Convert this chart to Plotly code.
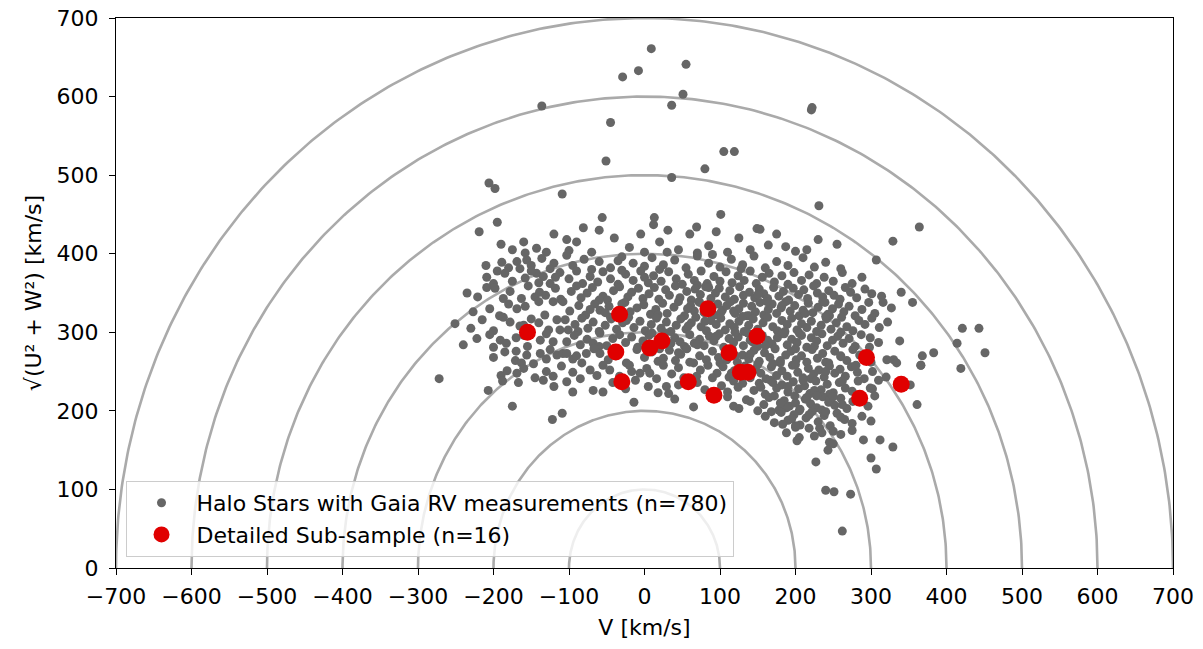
import numpy as np
import plotly.graph_objects as go

# ---------------- data ----------------
circle_radii = [100, 200, 300, 400, 500, 600, 700]
x_ticks = [-700, -600, -500, -400, -300, -200, -100, 0, 100, 200, 300, 400, 500, 600, 700]
y_ticks = [0, 100, 200, 300, 400, 500, 600, 700]

outer_v = [9, 55, -8, -29, 51, 36, -136, -45, 221, 222,
           105, 119, -51, 80, -206, -198, 36, -109, 231, 101,
           -56, 13, 12, -81, 69, 31, 149, -195, 364, 153,
           -272]
outer_h = [661, 641, 633, 625, 603, 589, 588, 567, 583, 586,
           530, 530, 518, 508, 490, 483, 497, 476, 461, 450,
           446, 446, 437, 433, 434, 430, 432, 440, 434, 431,
           241]

b400_v = [-219, -143, -103, -158, 164, 187, 255, 329, -190, -175,
          -120, -90, -70, -40, -20, 0, 20, 45, 60, 85,
          110, 125, 140, 200, 230, -60, -5, 95, 175, -130,
          70, -160, 215, 30, -100]
b400_h = [428, 407, 418, 401, 411, 409, 412, 416, 412, 405,
          425, 415, 402, 420, 408, 402, 415, 405, 425, 410,
          402, 420, 405, 403, 418, 430, 425, 428, 425, 402,
          401, 415, 405, 402, 404]

b380_v = [-156, -169, -189, -136, -103, 307, -210, -180, -150, -120,
          -95, -80, -60, -45, -30, -15, 0, 10, 25, 40,
          55, 70, 85, 100, 115, 130, 145, 160, 175, 190,
          210, 225, 240, 260, -70, 20, 90, -125, -35, 128]
b380_h = [392, 390, 389, 394, 398, 392, 385, 382, 385, 388,
          385, 393, 390, 382, 396, 388, 384, 395, 386, 392,
          382, 397, 388, 383, 393, 386, 397, 382, 390, 385,
          395, 383, 389, 381, 380, 380, 399, 381, 391, 381]

b360_v = [-165, -143, -134, -158, -209, -200, -185, -175, -150, -125,
          -112, -100, -90, -82, -72, -62, -55, -45, -35, -25,
          -15, -5, 5, 12, 22, 32, 42, 50, 58, 66,
          75, 83, 92, 100, 108, 116, 124, 132, 140, 148,
          156, 165, 172, 182, 190, 198, 208, 218, 228, 238,
          250, 262, 275, 288, -140, -195, -118, 0, -30, 70]
b360_h = [381, 375, 371, 369, 370, 362, 375, 365, 378, 362,
          376, 368, 378, 362, 371, 364, 377, 368, 361, 374,
          366, 378, 363, 372, 365, 377, 368, 361, 374, 366,
          378, 362, 371, 365, 377, 363, 372, 366, 378, 362,
          370, 375, 364, 372, 361, 376, 366, 373, 362, 370,
          365, 376, 362, 370, 363, 378, 370, 370, 379, 360]

b340_v = [-235, -221, -209, -198, -187, -178, -163, -154, -145, -139,
          -131, -118, -111, -97, -90, -84, -76, -69, -55, -49,
          -41, -33, -22, -17, -8, -2, 6, 13, 19, 28,
          33, 41, 47, 56, 62, 67, 74, 81, 88, 94,
          99, 107, 113, 119, 126, 131, 139, 146, 152, 158,
          163, 171, 178, 184, 191, 197, 204, 211, 216, 224,
          229, 236, 244, 251, 259, 266, 273, 281, 292, 301,
          314, 340, -60, 85, 150]
b340_h = [350, 345, 357, 356, 343, 352, 343, 359, 345, 351,
          347, 356, 342, 352, 359, 344, 350, 357, 346, 341,
          353, 358, 345, 351, 356, 343, 349, 357, 342, 354,
          347, 359, 344, 352, 341, 355, 348, 358, 343, 350,
          356, 345, 353, 342, 358, 347, 351, 344, 355, 349,
          343, 357, 346, 352, 341, 356, 348, 354, 343, 359,
          350, 345, 353, 347, 342, 357, 351, 344, 355, 349,
          346, 351, 341, 357, 348]

b320_v = [-227, -205, -192, -169, -158, -140, -121, -108, -99, -87,
          -78, -66, -59, -47, -38, -26, -19, -10, -1, 8,
          15, 24, 30, 39, 45, 53, 61, 66, 73, 79,
          86, 92, 97, 103, 109, 114, 120, 125, 131, 136,
          142, 147, 153, 158, 164, 169, 175, 181, 187, 193,
          199, 205, 210, 217, 223, 230, 236, 243, 249, 257,
          264, 271, 279, 288, 297, 305, 316, 327, 355, -180,
          -132, -72, -30, 18, 57, 101, 139, 162, 213, 239,
          118, 182, 245, -52, 72]
b320_h = [326, 330, 321, 330, 333, 339, 339, 339, 327, 334,
          322, 336, 328, 333, 321, 338, 326, 331, 335, 323,
          329, 337, 324, 332, 339, 321, 334, 327, 338, 325,
          331, 322, 336, 328, 334, 339, 324, 330, 337, 321,
          333, 326, 338, 322, 329, 336, 324, 331, 339, 327,
          334, 321, 328, 337, 325, 332, 339, 323, 330, 336,
          326, 333, 321, 329, 338, 324, 338, 331, 338, 336,
          322, 329, 336, 322, 330, 325, 321, 339, 324, 338,
          327, 334, 321, 325, 339]

b300_v = [-251, -230, -215, -200, -187, -178, -165, -150, -127, -116,
          -112, -105, -101, -92, -83, -75, -68, -60, -52, -44,
          -37, -29, -21, -14, -6, 1, 9, 16, 22, 29,
          35, 42, 48, 55, 62, 68, 75, 82, 88, 95,
          101, 107, 113, 119, 125, 132, 138, 144, 150, 157,
          163, 170, 176, 182, 189, 195, 202, 208, 215, 221,
          228, 234, 241, 247, 254, 261, 268, 276, 284, 292,
          301, 311, 322, 421, 443, -140, -88, -24, 58, 130,
          186, 240, -160, -45, 80]
b300_h = [311, 305, 316, 302, 319, 313, 308, 317, 303, 316,
          303, 316, 303, 310, 318, 305, 313, 301, 309, 317,
          304, 312, 319, 306, 314, 302, 310, 318, 305, 313,
          301, 309, 317, 304, 312, 319, 307, 302, 315, 310,
          318, 303, 311, 306, 314, 301, 309, 317, 304, 312,
          319, 307, 302, 315, 310, 318, 303, 311, 306, 314,
          301, 309, 317, 304, 312, 319, 307, 302, 315, 310,
          318, 306, 313, 305, 305, 312, 301, 315, 308, 320,
          301, 320, 309, 319, 314]

b280_v = [-240, -222, -205, -191, -183, -170, -155, -138, -121, -103,
          -93, -85, -76, -68, -59, -50, -42, -33, -25, -17,
          -9, -2, 6, 13, 20, 27, 33, 40, 47, 53,
          60, 66, 73, 79, 86, 92, 99, 105, 112, 118,
          124, 131, 137, 143, 150, 156, 163, 169, 176, 182,
          189, 195, 202, 208, 215, 221, 228, 235, 242, 249,
          256, 263, 271, 279, 287, 299, 310, 338, 414, -130,
          -60, 10, 70, 140, 185, 225, 260, -200, 35, 95,
          160, 205, -160, 120, 298]
b280_h = [284, 292, 297, 290, 286, 293, 282, 290, 288, 288,
          296, 284, 291, 286, 299, 283, 292, 297, 287, 294,
          281, 289, 296, 284, 292, 299, 285, 293, 288, 282,
          297, 286, 291, 283, 295, 289, 298, 281, 292, 287,
          294, 283, 299, 288, 282, 296, 290, 285, 293, 298,
          284, 291, 287, 296, 281, 293, 289, 298, 283, 290,
          295, 286, 292, 282, 297, 293, 287, 289, 286, 298,
          282, 299, 284, 290, 298, 282, 300, 281, 286, 295,
          283, 299, 296, 300, 281]

b260_v = [-200, -185, -171, -163, -156, -147, -138, -125, -116, -108,
          -103, -95, -83, -77, -67, -59, -48, -38, -24, -10,
          0, 10, 18, 25, 33, 41, 48, 56, 65, 73,
          82, 90, 98, 109, 116, 123, 130, 138, 145, 152,
          159, 166, 173, 180, 187, 194, 201, 208, 215, 222,
          229, 236, 244, 252, 260, 268, 276, 285, 300, 321,
          330, 334, 368, 383, 451, 366, -130, -40, 45, 120,
          200, 240, -90, 140, 60, 180, 20, 100, 260, -170]
b260_h = [268, 275, 264, 261, 271, 260, 273, 278, 271, 273,
          273, 266, 261, 273, 279, 273, 265, 270, 261, 278,
          268, 275, 263, 267, 277, 264, 272, 279, 261, 270,
          265, 276, 268, 265, 279, 262, 271, 266, 277, 263,
          274, 268, 279, 261, 271, 276, 265, 270, 262, 278,
          267, 273, 261, 276, 269, 264, 278, 271, 262, 265,
          265, 261, 270, 274, 274, 258, 266, 276, 274, 270,
          279, 262, 270, 272, 262, 264, 279, 261, 270, 276]

b240_v = [-190, -182, -169, -160, -145, -130, -121, -110, -95, -85,
          -72, -63, -55, -46, -33, -17, -6, 3, 7, 16,
          25, 36, 45, 52, 69, 74, 84, 96, 104, 112,
          119, 126, 133, 140, 147, 154, 161, 168, 175, 182,
          189, 196, 203, 210, 217, 224, 231, 238, 245, 252,
          259, 266, 274, 282, 291, 302, 320, 419, 366, 200,
          150, 220, 90, 60, -20, 130, 240, 170, 280, 115]
b240_h = [245, 251, 248, 254, 242, 250, 244, 257, 249, 241,
          252, 245, 258, 252, 244, 250, 248, 254, 248, 241,
          258, 247, 255, 242, 244, 252, 258, 248, 256, 243,
          251, 246, 257, 242, 253, 248, 241, 256, 245, 251,
          244, 258, 249, 242, 254, 247, 252, 243, 257, 248,
          253, 244, 256, 249, 241, 250, 243, 254, 258, 259,
          259, 241, 242, 241, 258, 248, 250, 260, 258, 248]

b220_v = [-207, -188, -167, -134, -120, -103, -95, -68, -55, -42,
          -25, -12, 5, 18, 29, 32, 45, 70, 80, 102,
          110, 118, 124, 145, 152, 160, 167, 175, 182, 190,
          197, 204, 212, 219, 227, 234, 242, 250, 258, 266,
          275, 283, 302, 299, 352, 310, 154, 210, 245, 130,
          88, 190, 262, 225, 170]
b220_h = [226, 238, 236, 239, 231, 237, 224, 226, 224, 236,
          228, 239, 231, 223, 231, 222, 233, 236, 227, 232,
          224, 238, 230, 226, 235, 221, 239, 229, 233, 224,
          237, 228, 232, 222, 238, 227, 234, 223, 236, 229,
          225, 238, 228, 229, 233, 239, 230, 239, 221, 235,
          222, 231, 238, 226, 236]

b200_v = [-175, -14, 40, 65, 110, 125, 140, 158, 165, 178,
          185, 192, 199, 206, 213, 220, 228, 236, 244, 252,
          260, 268, 276, 296, 305, 361, 150, 200, 235, 172,
          215, 245, 188, 135, 262, 228, 118, 205, 250, 180]
b200_h = [206, 211, 215, 205, 218, 203, 212, 208, 217, 201,
          213, 206, 219, 202, 215, 209, 204, 218, 211, 207,
          216, 203, 212, 206, 219, 208, 200, 210, 201, 219,
          217, 214, 204, 214, 208, 219, 206, 200, 218, 210]

b180_v = [-122, -109, 160, 172, 181, 190, 198, 206, 214, 222,
          230, 238, 246, 255, 265, 275, 288, 168, 200, 218,
          240, 183, 260, 195, 300]
b180_h = [189, 197, 193, 185, 198, 188, 195, 182, 191, 199,
          186, 194, 181, 197, 189, 184, 193, 199, 181, 195,
          199, 183, 192, 190, 187]

b160_v = [188, 205, 218, 232, 245, 260, 275, 290, 312, 200, 225, 250]
b160_h = [172, 166, 178, 178, 160, 170, 175, 163, 163, 179, 168, 174]

low_v = [329, 243, 250, 307, 227, 240, 251, 273, 262, 202, 300, 235]
low_h = [154, 150, 158, 126, 135, 99, 97, 94, 47, 162, 140, 172]

# detailed sub-sample (red)
sub_v = [-155, -33, -38, -30, 7, 23, 58, 84, 92, 112, 127, 137, 149, 294, 285, 340]
sub_h = [300, 323, 275, 237, 280, 289, 237, 330, 220, 274, 249, 249, 295, 268, 216, 234]

halo_v = (outer_v + b400_v + b380_v + b360_v + b340_v + b320_v + b300_v + b280_v
          + b260_v + b240_v + b220_v + b200_v + b180_v + b160_v + low_v)
halo_h = (outer_h + b400_h + b380_h + b360_h + b340_h + b320_h + b300_h + b280_h
          + b260_h + b240_h + b220_h + b200_h + b180_h + b160_h + low_h)
n = min(len(halo_v), len(halo_h))
halo_v, halo_h = halo_v[:n], halo_h[:n]

FONT = "DejaVu Sans"
FS = 22
fig = go.Figure()

theta = np.linspace(0, np.pi, 361)
for r in circle_radii:
    fig.add_trace(go.Scatter(
        x=r * np.cos(theta), y=r * np.sin(theta), mode="lines",
        line=dict(color="#aaaaaa", width=2.6), hoverinfo="skip", showlegend=False))

fig.add_trace(go.Scatter(
    x=halo_v, y=halo_h, mode="markers",
    marker=dict(color="#666666", size=9, line=dict(width=0)),
    name="Halo Stars with Gaia RV measurements (n=780)"))
fig.add_trace(go.Scatter(
    x=sub_v, y=sub_h, mode="markers",
    marker=dict(color="#e00000", size=17, line=dict(width=0)),
    name="Detailed Sub-sample (n=16)"))

axis_common = dict(
    showline=True, linecolor="black", linewidth=1.3, mirror=True,
    ticks="outside", ticklen=6, tickwidth=1.2, tickcolor="black",
    showgrid=False, zeroline=False, automargin=False,
    tickfont=dict(family=FONT, size=FS, color="black"),
)

NB = "\u00a0"
fig.update_layout(
    width=1203, height=649,
    margin=dict(l=116, r=30, t=18, b=81),
    paper_bgcolor="white", plot_bgcolor="white",
    font=dict(family=FONT, size=FS, color="black"),
    xaxis=dict(range=[-700, 700], tickvals=x_ticks, ticklabelstandoff=2,
               title=dict(text="V [km/s]", font=dict(family=FONT, size=FS), standoff=12),
               **axis_common),
    yaxis=dict(range=[0, 700], tickvals=y_ticks, ticklabelstandoff=6,
               title=dict(text=NB * 16 + "√(U² + W²) [km/s]", font=dict(family=FONT, size=FS),
                          standoff=8),
               **axis_common),
    legend=dict(x=0.009, y=0.02, xanchor="left", yanchor="bottom",
                bgcolor="rgba(255,255,255,0.8)", bordercolor="#cccccc", borderwidth=1,
                itemwidth=60,
                font=dict(family=FONT, size=FS, color="black")),
    showlegend=True,
)

fig.write_html("out.html")
